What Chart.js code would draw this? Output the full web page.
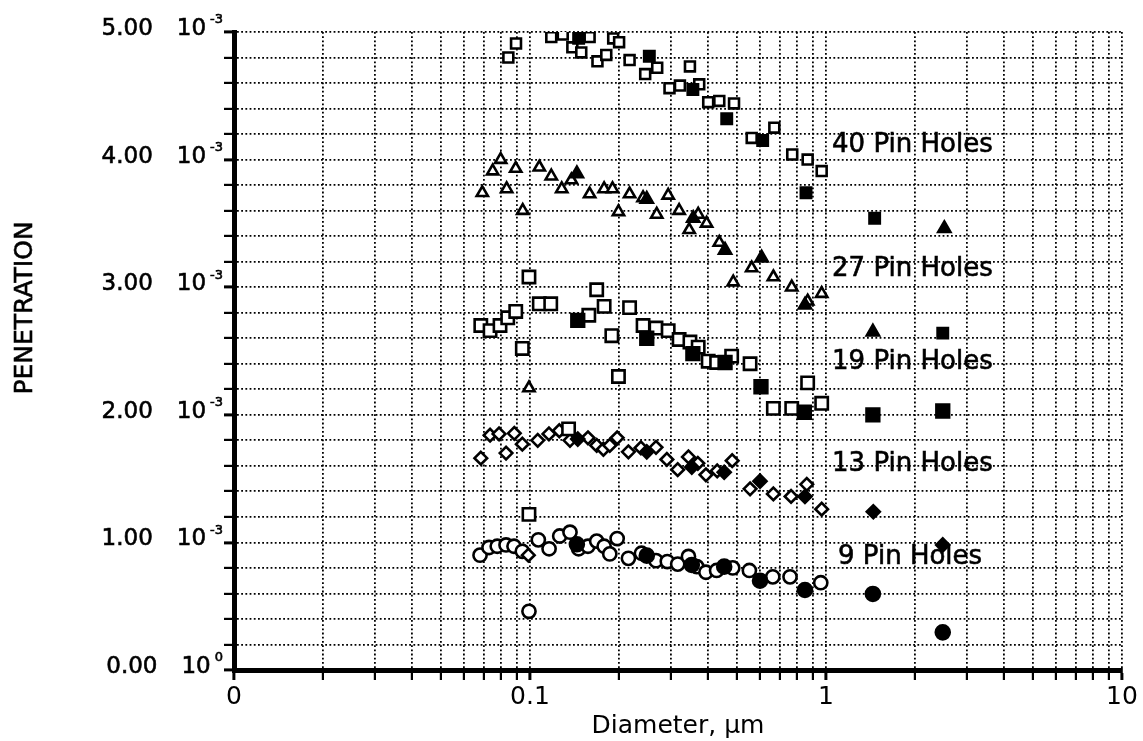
<!DOCTYPE html>
<html>
<head>
<meta charset="utf-8">
<script src="https://cdn.jsdelivr.net/npm/chart.js@4.4.1/dist/chart.umd.min.js"></script>
<style>
  html, body { margin: 0; padding: 0; background: #fff; }
  #wrap { width: 1143px; height: 741px; }
</style>
</head>
<body>
<div id="wrap"><canvas id="chart" width="1143" height="741"></canvas></div>
<script>
// Penetration values are in units of 10^-3, diameters in µm

// ── DATA ──
const openSquares40 = [[0.0845,4.80],[0.0897,4.91],[0.118,4.96],[0.129,4.98],[0.139,4.88],[0.149,4.84],[0.159,4.96],[0.169,4.77],[0.181,4.82],[0.191,4.95],[0.200,4.92],[0.217,4.78],[0.245,4.67],[0.269,4.72],[0.296,4.56],[0.321,4.58],[0.347,4.73],[0.373,4.59],[0.400,4.45],[0.436,4.46],[0.489,4.44],[0.561,4.17],[0.669,4.25],[0.769,4.04],[0.867,4.00],[0.967,3.91]];
const solidSquares40 = [[0.146,4.95],[0.253,4.81],[0.355,4.55],[0.462,4.32],[0.611,4.15],[0.856,3.74],[1.46,3.54],[2.48,2.64]];

const openTriangles27 = [[0.0690,3.74],[0.0748,3.91],[0.0796,4.00],[0.0834,3.77],[0.0895,3.93],[0.0945,3.60],[0.1075,3.94],[0.118,3.87],[0.128,3.77],[0.138,3.84],[0.159,3.73],[0.178,3.77],[0.190,3.77],[0.199,3.59],[0.217,3.73],[0.241,3.70],[0.268,3.57],[0.293,3.72],[0.319,3.60],[0.345,3.45],[0.370,3.57],[0.395,3.50],[0.436,3.35],[0.486,3.04],[0.561,3.15],[0.664,3.08],[0.766,3.00],[0.867,2.89],[0.967,2.95],[0.0992,2.21]];
const solidTriangles27 = [[0.144,3.89],[0.248,3.69],[0.356,3.54],[0.456,3.29],[0.606,3.23],[0.849,2.86],[1.44,2.65],[2.51,3.46]];

const openSquares19 = [[0.0992,3.08],[0.0682,2.70],[0.0733,2.66],[0.0792,2.70],[0.0841,2.76],[0.0895,2.81],[0.0942,2.52],[0.1075,2.87],[0.1175,2.87],[0.158,2.78],[0.168,2.98],[0.178,2.85],[0.189,2.62],[0.199,2.30],[0.217,2.84],[0.241,2.70],[0.2665,2.68],[0.293,2.66],[0.319,2.59],[0.347,2.57],[0.370,2.53],[0.400,2.42],[0.427,2.41],[0.480,2.46],[0.554,2.40],[0.664,2.05],[0.766,2.05],[0.867,2.25],[0.967,2.09],[0.0992,1.22],[0.135,1.89]];
const solidSquares19 = [[0.145,2.74],[0.248,2.60],[0.355,2.48],[0.456,2.41],[0.603,2.22],[0.845,2.02],[1.44,2.00],[2.48,2.03]];

const openDiamonds13 = [[0.0682,1.66],[0.0733,1.84],[0.0786,1.85],[0.0830,1.70],[0.0885,1.855],[0.0942,1.77],[0.1062,1.80],[0.1159,1.85],[0.1256,1.875],[0.1365,1.80],[0.157,1.82],[0.168,1.76],[0.177,1.73],[0.186,1.76],[0.197,1.82],[0.215,1.71],[0.237,1.74],[0.2665,1.745],[0.290,1.65],[0.3155,1.57],[0.343,1.67],[0.369,1.62],[0.393,1.53],[0.429,1.56],[0.482,1.64],[0.554,1.42],[0.664,1.38],[0.762,1.36],[0.861,1.455],[0.967,1.26],[0.0987,0.90]];
const solidDiamonds13 = [[0.145,1.81],[0.248,1.71],[0.352,1.59],[0.453,1.55],[0.5985,1.48],[0.849,1.36],[1.445,1.24],[2.48,0.98]];

const openCircles9 = [[0.0678,0.90],[0.0727,0.96],[0.0775,0.97],[0.0830,0.98],[0.0883,0.97],[0.0942,0.93],[0.0992,0.46],[0.1067,1.02],[0.116,0.95],[0.126,1.05],[0.1365,1.08],[0.146,0.95],[0.157,0.97],[0.168,1.01],[0.178,0.97],[0.186,0.91],[0.197,1.03],[0.215,0.875],[0.238,0.915],[0.2665,0.857],[0.291,0.85],[0.3155,0.83],[0.343,0.89],[0.366,0.81],[0.393,0.766],[0.427,0.78],[0.484,0.80],[0.551,0.78],[0.661,0.73],[0.756,0.73],[0.960,0.684]];
const solidCircles9 = [[0.144,0.985],[0.248,0.896],[0.352,0.823],[0.453,0.81],[0.5985,0.70],[0.849,0.627],[1.44,0.596],[2.48,0.295]];

const xGridValues = [0.01,0.02,0.03,0.04,0.05,0.06,0.07,0.08,0.09,0.1,0.2,0.3,0.4,0.5,0.6,0.7,0.8,0.9,1,2,3,4,5,6,7,8,9,10];
const xTickText = { 0.01: '0', 0.1: '0.1', 1: '1', 10: '10' };
const yMajorValues = [0, 1, 2, 3, 4, 5];
const yMantissas = ['0.00', '1.00', '2.00', '3.00', '4.00', '5.00'];
const yExponents = ['0', '-3', '-3', '-3', '-3', '-3'];

const seriesNames = ['40 Pin Holes', '27 Pin Holes', '19 Pin Holes', '13 Pin Holes', '9 Pin Holes'];
const nameSpots = [[1.048, 4.11], [1.048, 3.14], [1.048, 2.41], [1.048, 1.61], [1.098, 0.88]];

const FONT = '"DejaVu Sans", sans-serif';
const pts = arr => arr.map(([x, y]) => ({ x, y }));

function marker(data, style, filled, radius) {
    return {
        data: pts(data),
        pointStyle: style,
        pointRadius: radius,
        pointHoverRadius: radius,
        borderWidth: 2.6,
        borderColor: '#000',
        backgroundColor: filled ? '#000' : '#fff',
        showLine: false,
    };
}

// ── TEXT OVERLAYS ──
const textPlugin = {
    id: 'textOverlay',
    afterDraw(chart) {
        const { ctx, scales: { x, y } } = chart;
        ctx.save();
        ctx.fillStyle = '#000';
        ctx.strokeStyle = '#000';
        ctx.lineWidth = 0.6;
        ctx.textBaseline = 'middle';
        const put = (t, px, py) => { ctx.fillText(t, px, py); ctx.strokeText(t, px, py); };

        // y tick labels like "5.00  10^-3"
        yMajorValues.forEach((v, i) => {
            const py = y.getPixelForValue(v);
            ctx.textAlign = 'right';
            ctx.font = `13px ${FONT}`;
            let xr = 223;
            put(yExponents[i], xr, py - 12);
            xr -= ctx.measureText(yExponents[i]).width + 4;
            ctx.font = `23px ${FONT}`;
            put('10', xr, py - 3);
            xr -= ctx.measureText('10').width + 24;
            put(yMantissas[i], xr, py - 3);
        });

        // y title
        ctx.save();
        ctx.translate(25, 308);
        ctx.rotate(-Math.PI / 2);
        ctx.textAlign = 'center';
        ctx.font = `25px ${FONT}`;
        put('PENETRATION', 0, 0);
        ctx.restore();

        // series names
        ctx.textAlign = 'left';
        ctx.font = `26px ${FONT}`;
        seriesNames.forEach((name, i) => {
            const [vx, vy] = nameSpots[i];
            put(name, x.getPixelForValue(vx), y.getPixelForValue(vy));
        });
        ctx.restore();
    }
};

new Chart(document.getElementById('chart'), {
    type: 'scatter',
    data: {
        datasets: [
            marker(solidSquares40, 'rect', true, 7.3),
            marker(solidTriangles27, 'triangle', true, 7),
            marker(solidSquares19, 'rect', true, 9),
            marker(solidDiamonds13, 'rectRot', true, 6.5),
            marker(solidCircles9, 'circle', true, 7),
            marker(openSquares40, 'rect', false, 7),
            marker(openTriangles27, 'triangle', false, 6.5),
            marker(openSquares19, 'rect', false, 8.7),
            marker(openDiamonds13, 'rectRot', false, 6.3),
            marker(openCircles9, 'circle', false, 6.6),
        ]
    },
    options: {
        responsive: false,
        animation: false,
        layout: { padding: { left: 10, right: 21, top: 32, bottom: 0 } },
        scales: {
            x: {
                type: 'logarithmic',
                min: 0.01, max: 10,
                afterBuildTicks: s => { s.ticks = xGridValues.map(v => ({ value: v })); },
                afterFit: s => { s.height = 71; },
                ticks: {
                    autoSkip: false, maxRotation: 0, padding: 2,
                    color: '#000', font: { family: FONT, size: 25 },
                    callback: v => xTickText[v] ?? ''
                },
                grid: {
                    color: '#000', lineWidth: 1.8,
                    drawTicks: true, tickLength: 10, tickColor: '#000',
                    tickWidth: c => (xTickText[c.tick?.value] ? 3 : 2.2),
                    tickBorderDash: []
                },
                border: { display: true, color: '#000', width: 5, dash: [1.8, 2.4] },
                title: {
                    display: true, text: 'Diameter, µm', color: '#000',
                    font: { family: FONT, size: 25 }, padding: { top: 0, bottom: 0 }
                }
            },
            y: {
                min: 0, max: 5,
                afterFit: s => { s.width = 224; },
                ticks: { stepSize: 0.2, display: false },
                grid: {
                    color: '#000', lineWidth: 1.8,
                    drawTicks: true, tickLength: 10, tickColor: '#000',
                    tickWidth: c => (Math.abs(c.tick.value - Math.round(c.tick.value)) < 1e-6 ? 3 : 2.2),
                    tickBorderDash: []
                },
                border: { display: true, color: '#000', width: 5, dash: [1.8, 2.4] }
            }
        },
        plugins: {
            legend: { display: false },
            tooltip: { enabled: false }
        }
    },
    plugins: [textPlugin]
});
</script>
</body>
</html>
